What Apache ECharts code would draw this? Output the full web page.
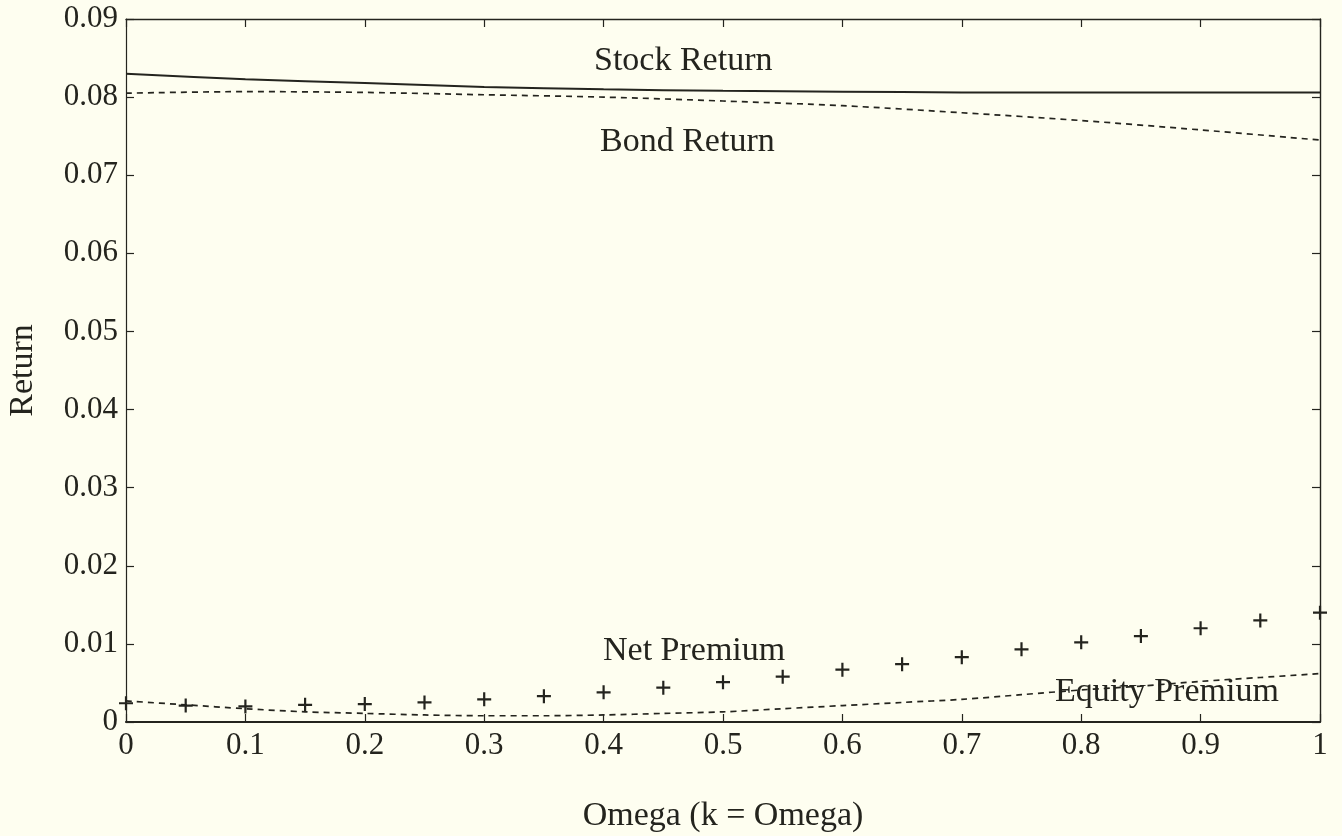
<!DOCTYPE html>
<html>
<head>
<meta charset="utf-8">
<script src="https://cdn.jsdelivr.net/npm/echarts@6/dist/echarts.min.js"></script>
<style>
  html, body { margin: 0; padding: 0; background: #fefef0; }
  #chart { width: 1342px; height: 836px; }
</style>
</head>
<body>
<div id="chart"></div>
<script>
// Omega grid for the return curves
const omegaCoarse = [0, 0.1, 0.2, 0.3, 0.4, 0.5, 0.6, 0.7, 0.8, 0.9, 1];
// Omega grid for the premium curves
const omegaFine = [0, 0.05, 0.1, 0.15, 0.2, 0.25, 0.3, 0.35, 0.4, 0.45, 0.5,
                   0.55, 0.6, 0.65, 0.7, 0.75, 0.8, 0.85, 0.9, 0.95, 1];

const stockReturn = [0.0830, 0.0823, 0.0818, 0.0813, 0.0810, 0.0808, 0.0807, 0.0806, 0.0806, 0.0806, 0.0806];
const bondReturn  = [0.0805, 0.0807, 0.0806, 0.0803, 0.0800, 0.0795, 0.0789, 0.0780, 0.0770, 0.0758, 0.0745];
const equityPremium = [0.0027, 0.0022, 0.0017, 0.0013, 0.0011, 0.0009, 0.0008, 0.0008, 0.0009, 0.0011, 0.0013,
                       0.0017, 0.0021, 0.0025, 0.0029, 0.0035, 0.0041, 0.0046, 0.0052, 0.0057, 0.0062];
const netPremium = [0.0024, 0.0021, 0.0020, 0.0022, 0.0023, 0.0025, 0.0029, 0.0033, 0.0038, 0.0044, 0.0051,
                    0.0058, 0.0067, 0.0074, 0.0083, 0.0093, 0.0102, 0.0110, 0.0120, 0.0130, 0.0140];

const xTicks = [0, 0.1, 0.2, 0.3, 0.4, 0.5, 0.6, 0.7, 0.8, 0.9, 1];
const yTicks = [0, 0.01, 0.02, 0.03, 0.04, 0.05, 0.06, 0.07, 0.08, 0.09];

const ink = '#24241e';
const serif = '"Liberation Serif", "Times New Roman", serif';

const pairs = (xs, ys) => xs.map((x, i) => [x, ys[i]]);

function frameAxis(lineWidth) {
  return {
    type: 'value',
    axisLine: { show: true, onZero: false, lineStyle: { color: ink, width: lineWidth } },
    axisTick: { show: true, inside: true, length: 8, lineStyle: { color: ink, width: 1.2 } },
    splitLine: { show: false }
  };
}

const chart = echarts.init(document.getElementById('chart'), null, { renderer: 'canvas' });

chart.setOption({
  backgroundColor: '#fefef0',
  animation: false,
  grid: { left: 126, right: 22, top: 19, bottom: 114, containLabel: false, outerBoundsMode: 'none' },
  xAxis: [
    Object.assign(frameAxis(2.2), {
      min: xTicks[0], max: xTicks[xTicks.length - 1], interval: 0.1,
      position: 'bottom',
      name: 'Omega (k = Omega)',
      nameLocation: 'middle',
      nameGap: 77,
      nameTextStyle: { fontFamily: serif, fontSize: 34, color: ink },
      axisLabel: { fontFamily: serif, fontSize: 31, color: ink, margin: 8 }
    }),
    Object.assign(frameAxis(1.4), {
      min: xTicks[0], max: xTicks[xTicks.length - 1], interval: 0.1,
      position: 'top',
      axisLabel: { show: false }
    })
  ],
  yAxis: [
    Object.assign(frameAxis(1.2), {
      min: yTicks[0], max: yTicks[yTicks.length - 1], interval: 0.01,
      position: 'left',
      name: 'Return',
      nameLocation: 'middle',
      nameGap: 86,
      nameRotate: 90,
      nameTextStyle: { fontFamily: serif, fontSize: 34, color: ink },
      axisLabel: { fontFamily: serif, fontSize: 31, color: ink, margin: 8 }
    }),
    Object.assign(frameAxis(1.4), {
      min: yTicks[0], max: yTicks[yTicks.length - 1], interval: 0.01,
      position: 'right',
      axisLabel: { show: false }
    })
  ],
  series: [
    {
      name: 'Stock Return',
      type: 'line',
      data: pairs(omegaCoarse, stockReturn),
      showSymbol: false,
      smooth: 0.3,
      lineStyle: { color: ink, width: 2 }
    },
    {
      name: 'Bond Return',
      type: 'line',
      data: pairs(omegaCoarse, bondReturn),
      showSymbol: false,
      smooth: 0.3,
      lineStyle: { color: ink, width: 1.7, type: [6, 5] }
    },
    {
      name: 'Equity Premium',
      type: 'line',
      data: pairs(omegaFine, equityPremium),
      showSymbol: false,
      smooth: 0.3,
      lineStyle: { color: ink, width: 1.7, type: [6, 5] }
    },
    {
      name: 'Net Premium',
      type: 'scatter',
      data: pairs(omegaFine, netPremium),
      symbol: 'path://M0,5 L10,5 M5,0 L5,10',
      symbolSize: 14,
      itemStyle: { color: 'none', borderColor: ink, borderWidth: 2.2, opacity: 1 }
    }
  ],
  graphic: [
    { type: 'text', left: 594, top: 44, style: { text: 'Stock Return', font: '34px ' + serif, fill: ink } },
    { type: 'text', left: 600, top: 125, style: { text: 'Bond Return', font: '34px ' + serif, fill: ink } },
    { type: 'text', left: 603, top: 634, style: { text: 'Net Premium', font: '34px ' + serif, fill: ink } },
    { type: 'text', left: 1055, top: 675, style: { text: 'Equity Premium', font: '34px ' + serif, fill: ink } }
  ]
});
</script>
</body>
</html>
